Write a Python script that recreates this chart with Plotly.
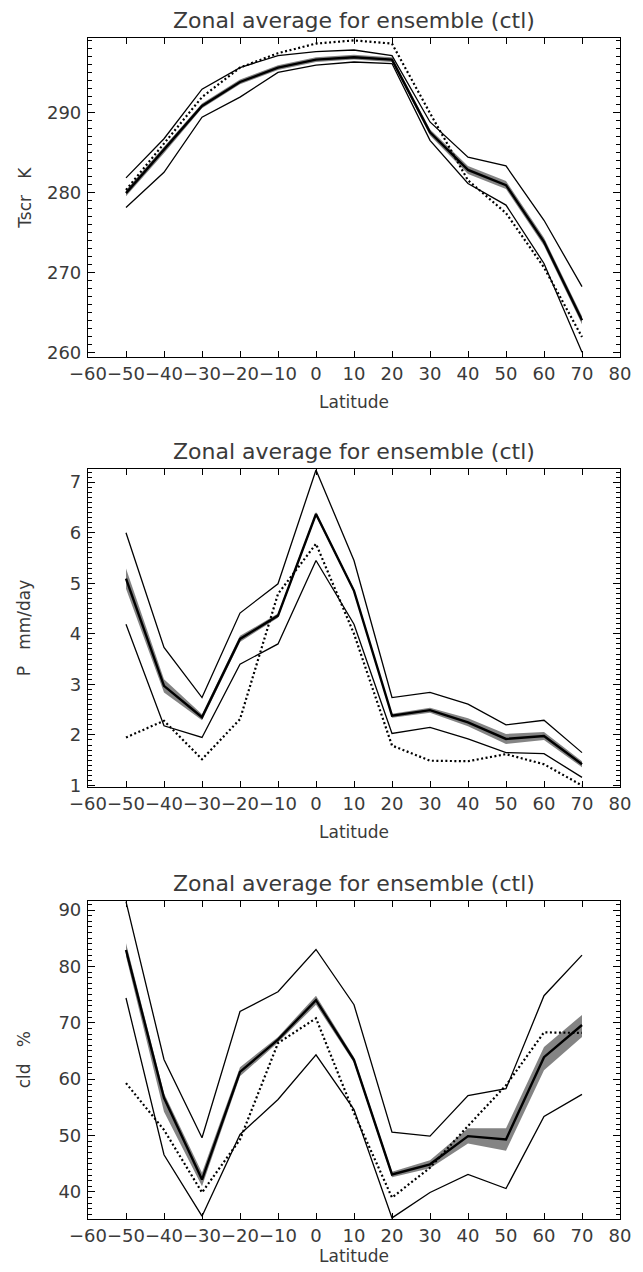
import plotly.graph_objects as go

lat = [-50, -40, -30, -20, -10, 0, 10, 20, 30, 40, 50, 60, 70]

# Panel 1: screen temperature (K)
t_upper = [281.8, 286.7, 292.9, 295.6, 297.1, 297.6, 297.8, 297.1, 288.8, 284.4, 283.3, 276.5, 268.2]
t_mean = [279.9, 285.3, 290.8, 293.8, 295.6, 296.6, 296.9, 296.6, 287.5, 282.8, 280.9, 273.8, 264.0]
t_lower = [278.1, 282.5, 289.4, 291.9, 295.0, 295.9, 296.3, 296.1, 286.5, 281.1, 278.4, 271.1, 260.0]
t_obs = [280.3, 286.1, 291.9, 295.6, 297.4, 298.6, 299.0, 298.6, 289.9, 281.5, 277.4, 270.6, 261.9]
t_band_lo = [279.5, 284.9, 290.5, 293.5, 295.3, 296.3, 296.6, 296.3, 287.1, 282.3, 280.4, 273.3, 263.5]
t_band_hi = [280.3, 285.7, 291.1, 294.1, 295.9, 296.9, 297.2, 296.9, 287.9, 283.3, 281.4, 274.3, 264.5]

# Panel 2: precipitation (mm/day)
p_upper = [6.00, 3.73, 2.74, 4.41, 4.99, 7.24, 5.45, 2.74, 2.84, 2.61, 2.20, 2.29, 1.65]
p_mean = [5.09, 2.97, 2.35, 3.90, 4.36, 6.37, 4.85, 2.38, 2.49, 2.25, 1.92, 1.98, 1.42]
p_lower = [4.19, 2.18, 1.95, 3.40, 3.80, 5.45, 4.19, 2.03, 2.15, 1.92, 1.65, 1.63, 1.16]
p_obs = [1.95, 2.28, 1.52, 2.31, 4.79, 5.78, 4.00, 1.79, 1.49, 1.48, 1.62, 1.42, 1.00]
p_band_lo = [4.89, 2.84, 2.29, 3.84, 4.32, 6.33, 4.81, 2.34, 2.44, 2.17, 1.82, 1.90, 1.36]
p_band_hi = [5.29, 3.10, 2.41, 3.96, 4.40, 6.41, 4.89, 2.42, 2.54, 2.33, 2.02, 2.06, 1.48]

# Panel 3: cloud cover (%)
c_upper = [91.5, 63.5, 49.6, 72.0, 75.5, 83.0, 73.2, 50.6, 49.9, 57.1, 58.3, 74.8, 82.0]
c_mean = [82.9, 56.7, 42.2, 61.3, 67.0, 74.0, 63.4, 43.1, 44.9, 49.9, 49.3, 63.9, 69.6]
c_lower = [74.4, 46.6, 35.7, 50.2, 56.4, 64.3, 54.6, 35.4, 39.9, 43.1, 40.6, 53.4, 57.3]
c_obs = [59.3, 51.0, 39.9, 49.3, 66.4, 70.8, 54.0, 39.0, 44.3, 51.7, 58.9, 68.3, 68.2]
c_band_lo = [81.8, 54.2, 41.0, 60.5, 66.5, 73.2, 62.9, 42.6, 44.2, 48.6, 47.3, 61.6, 67.5]
c_band_hi = [84.1, 57.5, 43.4, 62.1, 67.5, 74.8, 63.9, 43.6, 45.6, 51.3, 51.3, 65.7, 71.4]

panels = [
    dict(upper=t_upper, mean=t_mean, lower=t_lower, obs=t_obs, blo=t_band_lo, bhi=t_band_hi,
         yrange=[259.4, 299.3], dtick=10, tick0=260, minor=1, ytitle="Tscr\u00a0\u00a0\u00a0K"),
    dict(upper=p_upper, mean=p_mean, lower=p_lower, obs=p_obs, blo=p_band_lo, bhi=p_band_hi,
         yrange=[0.97, 7.26], dtick=1, tick0=1, minor=0.1, ytitle="P\u00a0\u00a0\u00a0mm/day"),
    dict(upper=c_upper, mean=c_mean, lower=c_lower, obs=c_obs, blo=c_band_lo, bhi=c_band_hi,
         yrange=[35.2, 91.6], dtick=10, tick0=40, minor=1, ytitle="cld\u00a0\u00a0\u00a0%"),
]

title_text = "Zonal average for ensemble (ctl)"

# the page body has an 8px margin, so the figure is offset by 8px
OFF = 8
W, H = 643 - OFF, 1272 - OFF
ML, MR, MT, MB = 88 - OFF, 21, 38 - OFF, 53
PH = H - MT - MB
# panel pixel extents (top, bottom) in screen pixels
pix = [(38, 357), (469, 787), (901, 1219)]
title_gap = [17, 17, 18]
xlabel_gap = [45, 45, 37]


def fy(ypix_screen):
    return (H - MB - (ypix_screen - OFF)) / PH


def fx(xpix_screen):
    return ((xpix_screen - OFF) - ML) / (W - ML - MR)


FONT = "DejaVu Sans"
TXT = "#3a3a3a"

fig = go.Figure()
annotations = []

for i, p in enumerate(panels):
    n = "" if i == 0 else str(i + 1)
    xa, ya = "x" + n, "y" + n
    # shaded band
    fig.add_trace(go.Scatter(x=lat, y=p["blo"], mode="lines", line=dict(width=0, color="rgba(0,0,0,0)"),
                             xaxis=xa, yaxis=ya, showlegend=False, hoverinfo="skip"))
    fig.add_trace(go.Scatter(x=lat, y=p["bhi"], mode="lines", line=dict(width=0, color="rgba(0,0,0,0)"),
                             fill="tonexty", fillcolor="rgba(110,110,110,0.85)",
                             xaxis=xa, yaxis=ya, showlegend=False, hoverinfo="skip"))
    for key, w, dash in [("upper", 1.3, "solid"), ("lower", 1.3, "solid"),
                         ("mean", 2.4, "solid"), ("obs", 2.2, "2px,2.5px")]:
        fig.add_trace(go.Scatter(x=lat, y=p[key], mode="lines",
                                 line=dict(color="black", width=w, dash=dash),
                                 xaxis=xa, yaxis=ya, showlegend=False))
    top, bot = pix[i]
    axis_common = dict(showline=True, linecolor="black", linewidth=1.2, mirror="ticks",
                       ticks="inside", tickcolor="black", tickwidth=1, showgrid=False,
                       zeroline=False, tickfont=dict(family=FONT, size=18, color=TXT))
    fig.update_layout(**{
        ("xaxis" + n): dict(axis_common, domain=[0, 1], range=[-60, 80], dtick=10, tick0=-60,
                            ticklen=6, anchor=ya, tickangle=0),
        ("yaxis" + n): dict(axis_common, domain=[fy(bot), fy(top)], range=p["yrange"],
                            dtick=p["dtick"], tick0=p["tick0"], ticklen=7, anchor=xa,
                            ticklabelstandoff=2,
                            minor=dict(ticks="inside", ticklen=3.5, dtick=p["minor"],
                                       tickcolor="black", tickwidth=1, showgrid=False)),
    })
    annotations.append(dict(text=title_text, xref="paper", yref="paper", x=0.5,
                            y=fy(top - title_gap[i]), xanchor="center", yanchor="middle",
                            showarrow=False, font=dict(family=FONT, size=22, color=TXT)))
    annotations.append(dict(text="Latitude", xref="paper", yref="paper", x=0.5,
                            y=fy(bot + xlabel_gap[i]), xanchor="center", yanchor="middle",
                            showarrow=False, font=dict(family=FONT, size=17, color=TXT)))
    annotations.append(dict(text=p["ytitle"], xref="paper", yref="paper",
                            x=fx(24), y=fy((top + bot) / 2),
                            xanchor="center", yanchor="middle", textangle=-90, showarrow=False,
                            font=dict(family=FONT, size=17, color=TXT)))

fig.update_layout(width=W, height=H, margin=dict(l=ML, r=MR, t=MT, b=MB),
                  paper_bgcolor="white", plot_bgcolor="white", annotations=annotations,
                  showlegend=False)

fig.write_html("out.html")
